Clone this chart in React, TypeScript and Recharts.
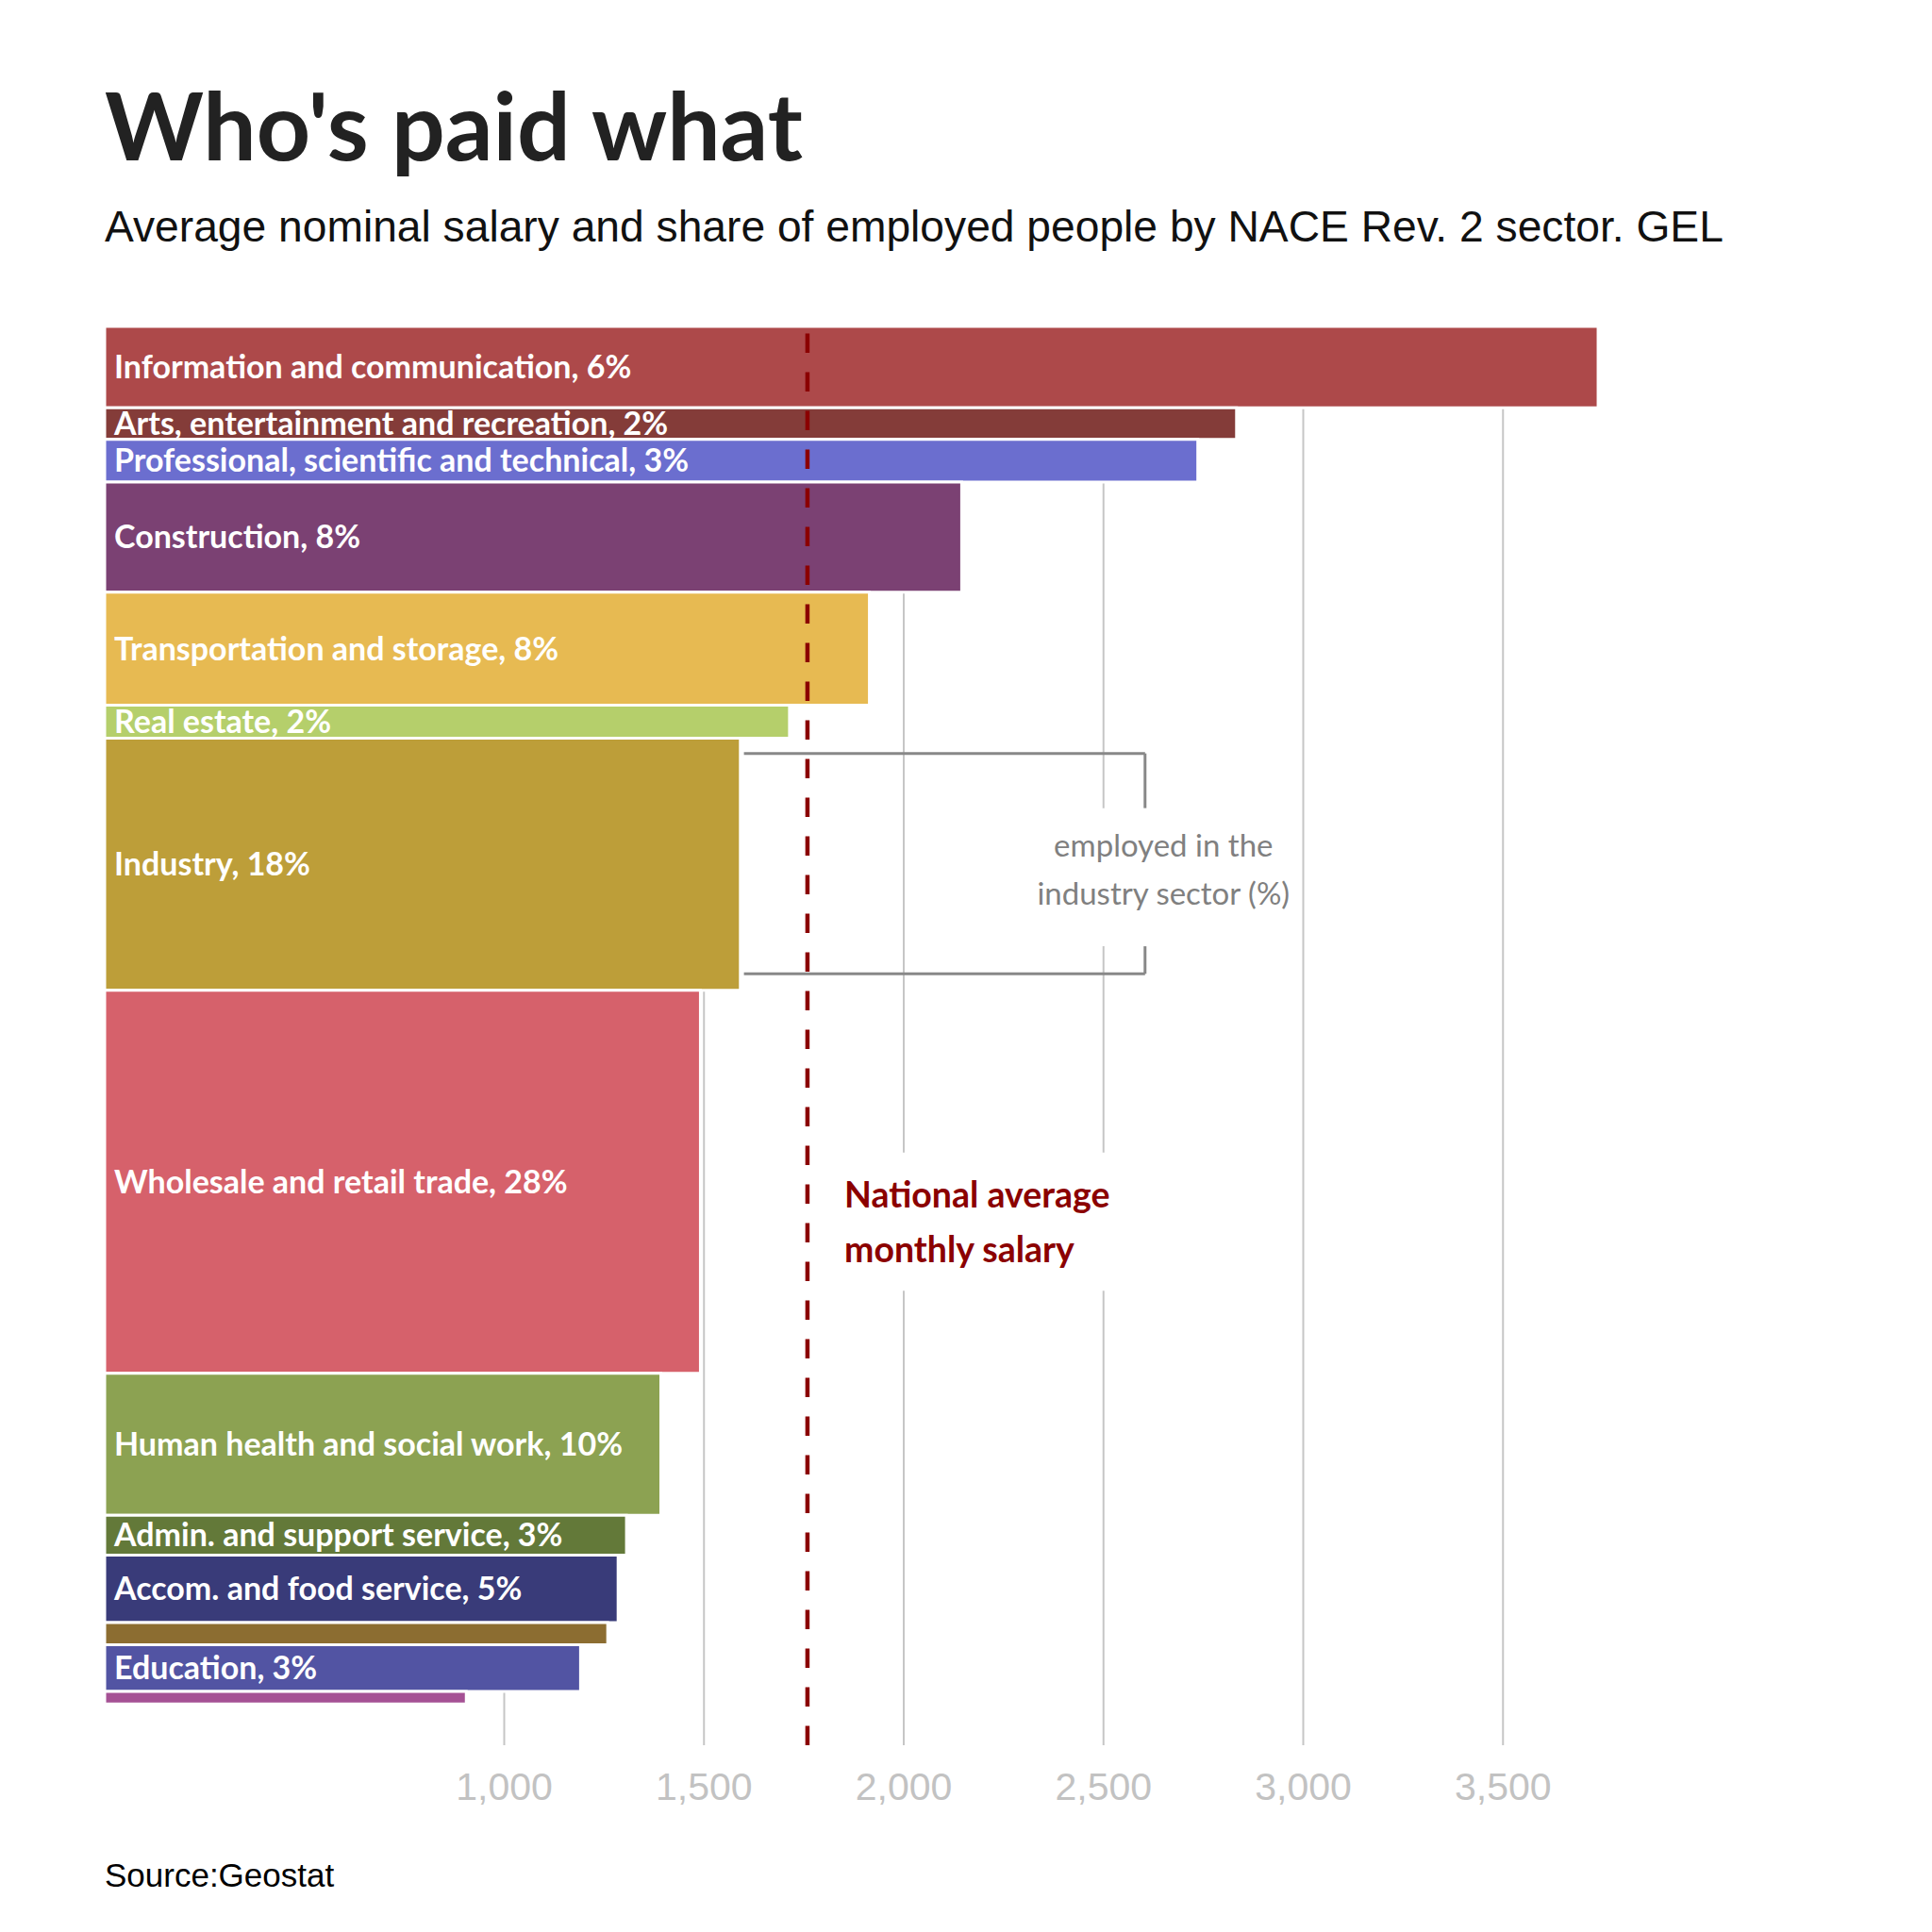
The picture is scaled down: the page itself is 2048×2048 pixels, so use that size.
import React from 'react';
import {
  ScatterChart,
  Scatter,
  XAxis,
  YAxis,
  CartesianGrid,
  ReferenceArea,
  ReferenceLine,
} from 'recharts';

// ---- data ----
const sectors = [
  'Information and communication',
  'Arts, entertainment and recreation',
  'Professional, scientific and technical',
  'Construction',
  'Transportation and storage',
  'Real estate',
  'Industry',
  'Wholesale and retail trade',
  'Human health and social work',
  'Admin. and support service',
  'Accom. and food service',
  '',
  'Education',
  '',
];
const salaries = [3738, 2833, 2736, 2145, 1914, 1714, 1591, 1491, 1392, 1306, 1285, 1259, 1191, 905];
const shares = [5.9, 2.3, 3.1, 8.0, 8.2, 2.4, 18.3, 27.8, 10.3, 2.9, 4.9, 1.6, 3.4, 0.9];
const colors = [
  '#ad494a', '#843c39', '#6b6ecf', '#7b4173', '#e7ba52', '#b5cf6b', '#bd9e39',
  '#d6616b', '#8ca252', '#637939', '#393b79', '#8c6d31', '#5254a3', '#a55194',
];
const xTicks = [1000, 1500, 2000, 2500, 3000, 3500];
const xDomain = [0, 4000];
const nationalAverage = 1759;
const industryBracket = { x1: 1600, x2: 2604, y1: 31.0, y2: 47.0, gapTop: 34.97, gapBottom: 45.0 };
const industryNoteBox = { x1: 2315, x2: 2985, y1: 34.97, y2: 45.0 };
const nationalNoteBox = { x1: 1817, x2: 2550, y1: 59.98, y2: 70.0 };

// build rows (cumulative positions)
const rows = (() => {
  let acc = 0;
  return sectors.map((name, i) => {
    const start = acc;
    acc += shares[i];
    return {
      name,
      salary: salaries[i],
      share: shares[i],
      start,
      end: acc,
      mid: (start + acc) / 2,
      color: colors[i],
      label: name ? `${name}, ${Math.round(shares[i])}%` : '',
    };
  });
})();

const W = 2048;
const H = 2048;
const PLOT_TOP = 346;
const PLOT_BOTTOM = 1850;
const PLOT_LEFT = 111;
const PLOT_RIGHT = 1805;
const XAXIS_H = 100;

const LABEL_FONT = 'Lato, "Open Sans", sans-serif';
const ARIAL = '"Liberation Sans", Arial, Helvetica, sans-serif';

const NationalLabel = (props: any) => {
  const vb = props.viewBox || {};
  const x = vb.x + 14.5;
  return (
    <text fontFamily={LABEL_FONT} fontWeight={700} fontSize={37.5} fill="#8b0000">
      <tspan x={x} y={vb.y + 58.5}>National average</tspan>
      <tspan x={x} y={vb.y + 116.5}>monthly salary</tspan>
    </text>
  );
};

const IndustryLabel = (props: any) => {
  const vb = props.viewBox || {};
  const cx = vb.x + vb.width / 2;
  return (
    <text fontFamily={LABEL_FONT} fontWeight={400} fontSize={33} fill="#808080" textAnchor="middle">
      <tspan x={cx} y={vb.y + 51.2}>employed in the</tspan>
      <tspan x={cx} y={vb.y + 102.4}>industry sector (%)</tspan>
    </text>
  );
};

const gridX = (args: any) => {
  const ax = args && args.xAxis;
  if (ax && typeof ax.scale === 'function') {
    return xTicks.map((t) => ax.scale(t));
  }
  const off = (args && args.offset) || { left: PLOT_LEFT, width: PLOT_RIGHT - PLOT_LEFT };
  return xTicks.map((t) => off.left + ((t - xDomain[0]) / (xDomain[1] - xDomain[0])) * off.width);
};

export default function App() {
  return (
    <div style={{ position: 'absolute', left: 0, top: 0, width: W, height: H, background: '#fff' }}>
      <ScatterChart
        width={W}
        height={H}
        margin={{ top: PLOT_TOP, left: PLOT_LEFT, right: W - PLOT_RIGHT, bottom: H - PLOT_BOTTOM - XAXIS_H }}
      >
        <CartesianGrid
          horizontal={false}
          vertical
          stroke="#c6c6c6"
          strokeWidth={2}
          verticalCoordinatesGenerator={gridX}
        />
        <XAxis
          type="number"
          dataKey="salary"
          domain={xDomain}
          allowDataOverflow
          ticks={xTicks}
          tickFormatter={(v: number) => v.toLocaleString('en-US')}
          axisLine={false}
          tickLine={false}
          tickSize={0}
          tickMargin={28.6}
          height={XAXIS_H}
          tick={{ fill: '#c2c2c2', fontSize: 41, fontFamily: ARIAL }}
        />
        <YAxis type="number" dataKey="mid" domain={[0, 103]} allowDataOverflow reversed hide width={0} />
        <Scatter data={rows} isAnimationActive={false} shape={() => <g />} />
        {rows.map((r, i) => (
          <ReferenceArea
            key={'bar' + i}
            x1={0}
            x2={r.salary}
            y1={r.start}
            y2={r.end}
            fill={r.color}
            fillOpacity={1}
            stroke="#ffffff"
            strokeWidth={3}
            label={
              r.label
                ? {
                    value: r.label,
                    position: 'insideLeft',
                    offset: 10,
                    fill: '#ffffff',
                    fontSize: 34,
                    fontWeight: 700,
                    fontFamily: LABEL_FONT,
                  }
                : undefined
            }
          />
        ))}
        {/* industry bracket */}
        <ReferenceLine
          segment={[
            { x: industryBracket.x1, y: industryBracket.y1 },
            { x: industryBracket.x2, y: industryBracket.y1 },
          ]}
          stroke="#888888"
          strokeWidth={3}
        />
        <ReferenceLine
          segment={[
            { x: industryBracket.x2, y: industryBracket.y1 },
            { x: industryBracket.x2, y: industryBracket.gapTop },
          ]}
          stroke="#888888"
          strokeWidth={3}
        />
        <ReferenceLine
          segment={[
            { x: industryBracket.x2, y: industryBracket.gapBottom },
            { x: industryBracket.x2, y: industryBracket.y2 },
          ]}
          stroke="#888888"
          strokeWidth={3}
        />
        <ReferenceLine
          segment={[
            { x: industryBracket.x1, y: industryBracket.y2 },
            { x: industryBracket.x2, y: industryBracket.y2 },
          ]}
          stroke="#888888"
          strokeWidth={3}
        />
        <ReferenceArea
          x1={industryNoteBox.x1}
          x2={industryNoteBox.x2}
          y1={industryNoteBox.y1}
          y2={industryNoteBox.y2}
          fill="#ffffff"
          fillOpacity={1}
          stroke="none"
          label={(p: any) => <IndustryLabel {...p} />}
        />
        <ReferenceArea
          x1={nationalNoteBox.x1}
          x2={nationalNoteBox.x2}
          y1={nationalNoteBox.y1}
          y2={nationalNoteBox.y2}
          fill="#ffffff"
          fillOpacity={1}
          stroke="none"
          label={(p: any) => <NationalLabel {...p} />}
        />
        <ReferenceLine
          segment={[
            { x: nationalAverage, y: 103 },
            { x: nationalAverage, y: 0 },
          ]}
          stroke="#8b0000"
          strokeWidth={4.5}
          strokeDasharray="20.5 20.5"
        />
      </ScatterChart>
      <svg
        width={W}
        height={H}
        style={{ position: 'absolute', left: 0, top: 0, pointerEvents: 'none' }}
      >
        <text x={111} y={170} fontFamily={LABEL_FONT} fontWeight={700} fontSize={100} fill="#222222">
          Who's paid what
        </text>
        <text x={111} y={255.5} fontFamily={ARIAL} fontSize={46.2} fill="#111111">
          Average nominal salary and share of employed people by NACE Rev. 2 sector. GEL
        </text>
        <text x={111} y={2000} fontFamily={ARIAL} fontSize={35} fill="#000000">
          Source:Geostat
        </text>
      </svg>
    </div>
  );
}
